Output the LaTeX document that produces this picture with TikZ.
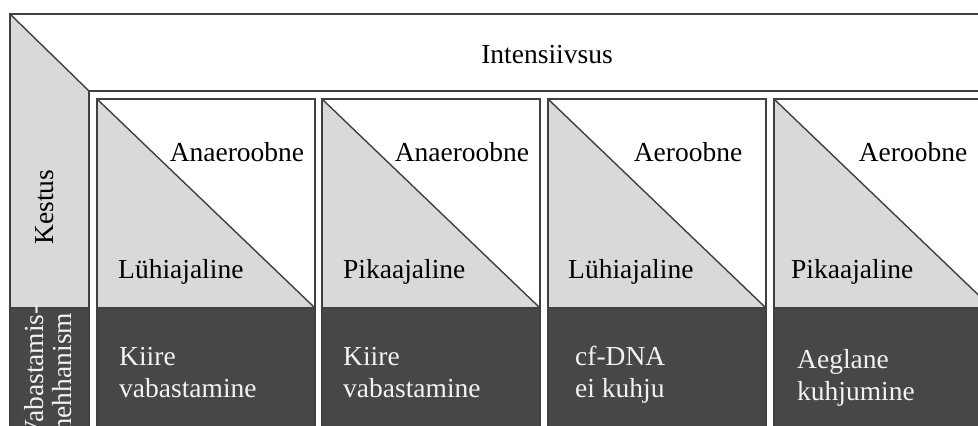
\documentclass[tikz,border=0pt]{standalone}
\usepackage{fontspec}
\setmainfont{Liberation Serif}
\definecolor{lightcell}{HTML}{D9D9D9}
\definecolor{darkcell}{HTML}{474747}
\definecolor{celltext}{HTML}{F2F2F2}
\tikzset{
  frameline/.style={line width=1.4pt, draw=black!75},
  lbl/.style={inner sep=0pt, font=\fontsize{27.5}{32}\selectfont},
  darklbl/.style={lbl, text=celltext, align=left, anchor=base west},
}

\begin{document}
\begin{tikzpicture}[x=1pt, y=-1pt]
\useasboundingbox (0,0) rectangle (978,426);
\clip (0,0) rectangle (978,426);
% header row and left column
\fill[lightcell] (10,14) -- (89,91) -- (89,308) -- (10,308) -- cycle;
\fill[darkcell] (10,308) rectangle (89,440);
\draw[frameline] (10,440) -- (10,14) -- (995,14);
\draw[frameline] (995,91) -- (89,91) -- (89,440);
\draw[frameline] (10,14) -- (89,91);
\draw[frameline] (10,308) -- (89,308);
\node[lbl, anchor=base] (intens) at (547,63) {Intensiivsus};
\node[lbl, rotate=90] (kestus) at (45,207) {Kestus};
\node[lbl, rotate=90, align=left, anchor=east, text=celltext, font=\fontsize{27.5}{28}\selectfont] (mehh) at (48,305) {Vabastamis-\\mehhanism};
% panel 1
\begin{scope}[xshift=97pt]
\fill[lightcell] (0,99) -- (0,308) -- (218,308) -- cycle;
\fill[darkcell] (0,308) rectangle (218,440);
\draw[frameline] (0,99) rectangle (218,440);
\draw[frameline] (0,99) -- (218,308);
\draw[frameline] (0,308) -- (218,308);
\node[lbl, anchor=base] (type1) at (140,161) {Anaeroobne};
\node[lbl, anchor=base west] (dur1) at (21,278) {Lühiajaline};
\node[darklbl] (rel1) at (22,397) {Kiire\\vabastamine};
\end{scope}
% panel 2
\begin{scope}[xshift=322pt]
\fill[lightcell] (0,99) -- (0,308) -- (218,308) -- cycle;
\fill[darkcell] (0,308) rectangle (218,440);
\draw[frameline] (0,99) rectangle (218,440);
\draw[frameline] (0,99) -- (218,308);
\draw[frameline] (0,308) -- (218,308);
\node[lbl, anchor=base] (type2) at (140,161) {Anaeroobne};
\node[lbl, anchor=base west] (dur2) at (21,278) {Pikaajaline};
\node[darklbl] (rel2) at (21,397) {Kiire\\vabastamine};
\end{scope}
% panel 3
\begin{scope}[xshift=548pt]
\fill[lightcell] (0,99) -- (0,308) -- (218,308) -- cycle;
\fill[darkcell] (0,308) rectangle (218,440);
\draw[frameline] (0,99) rectangle (218,440);
\draw[frameline] (0,99) -- (218,308);
\draw[frameline] (0,308) -- (218,308);
\node[lbl, anchor=base] (type3) at (140,161) {Aeroobne};
\node[lbl, anchor=base west] (dur3) at (20,278) {Lühiajaline};
\node[darklbl] (rel3) at (27,397) {cf-DNA\\ei kuhju};
\end{scope}
% panel 4
\begin{scope}[xshift=774pt]
\fill[lightcell] (0,99) -- (0,308) -- (218,308) -- cycle;
\fill[darkcell] (0,308) rectangle (218,440);
\draw[frameline] (0,99) rectangle (218,440);
\draw[frameline] (0,99) -- (218,308);
\draw[frameline] (0,308) -- (218,308);
\node[lbl, anchor=base] (type4) at (139,161) {Aeroobne};
\node[lbl, anchor=base west] (dur4) at (17,278) {Pikaajaline};
\node[darklbl] (rel4) at (23,400) {Aeglane\\kuhjumine};
\end{scope}
\end{tikzpicture}
\end{document}
